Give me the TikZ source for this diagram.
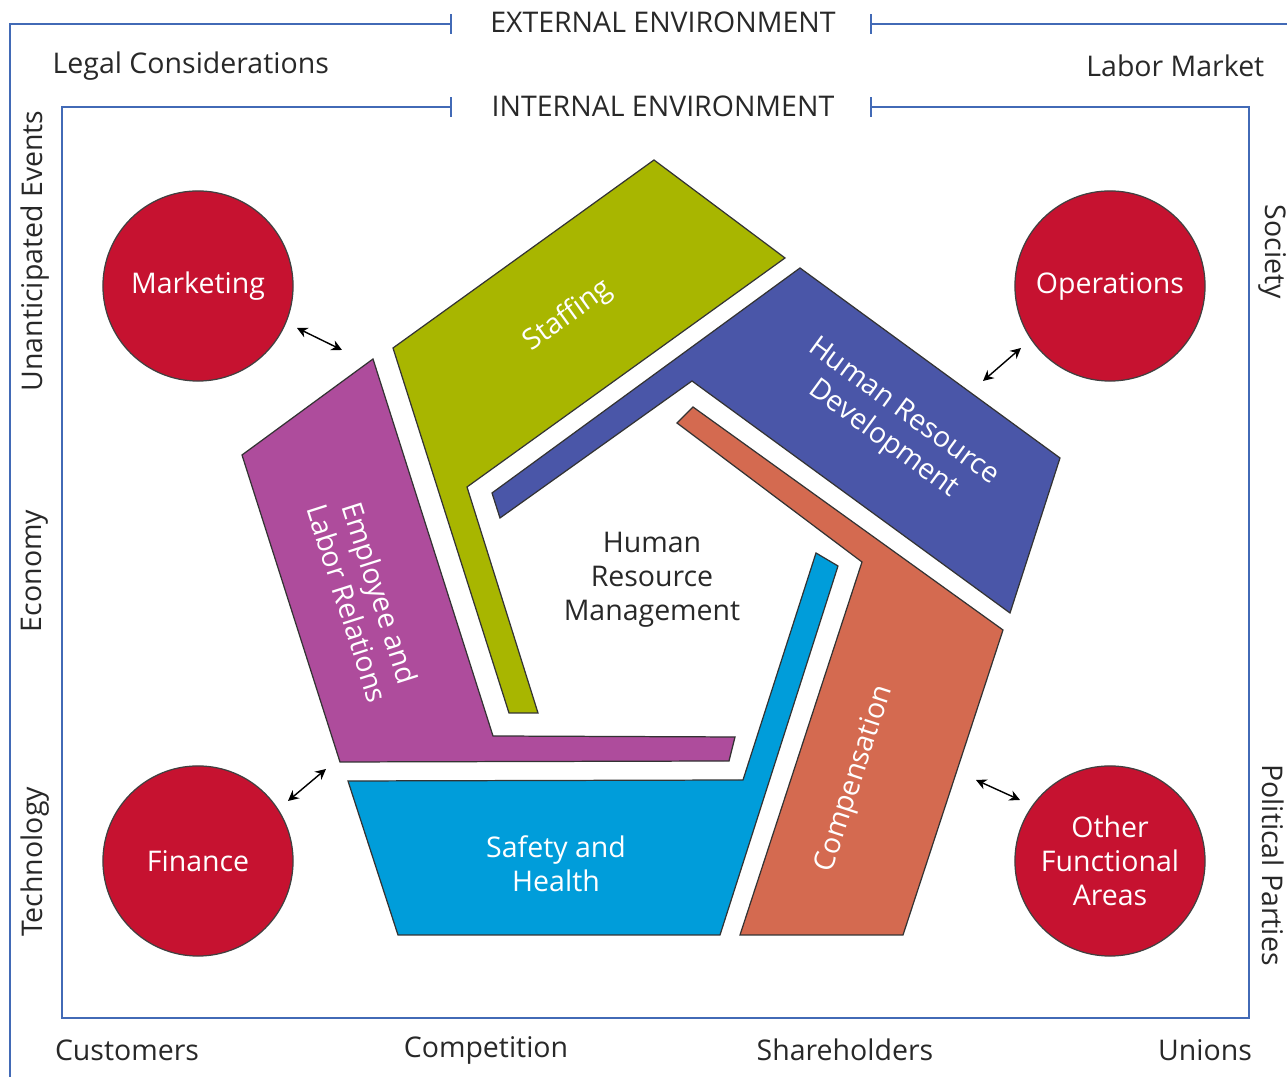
\documentclass[tikz,border=0pt]{standalone}
\usepackage{fontspec}
\setmainfont{Open Sans}
\usetikzlibrary{arrows.meta}
\definecolor{framecol}{RGB}{66,106,182}
\definecolor{deptred}{RGB}{198,18,48}
\definecolor{stfcol}{RGB}{168,182,0}
\definecolor{hrdcol}{RGB}{74,86,168}
\definecolor{elrcol}{RGB}{174,76,156}
\definecolor{sahcol}{RGB}{0,157,218}
\definecolor{cmpcol}{RGB}{212,106,80}
\definecolor{inkcol}{RGB}{40,40,40}
\tikzset{
  txt/.style = {text = inkcol, font = \fontsize{8.1}{9.7}\selectfont, inner sep = 0pt},
  wtxt/.style = {text = white, font = \fontsize{8.1}{9.7}\selectfont, align = center, inner sep = 0pt},
  area/.style = {draw = black!80, line width = .35pt},
  frameline/.style = {draw = framecol, line width = .6pt},
  dept/.style = {circle, fill = deptred, draw = black!75, line width = .35pt,
                 minimum size = 1.9cm, inner sep = 0pt, wtxt},
  link/.style = {{Stealth[length = 3pt, width = 3pt]}-{Stealth[length = 3pt, width = 3pt]}, line width = .4pt}
}
\begin{document}
\begin{tikzpicture}[x = .01cm, y = -.01cm]
      \useasboundingbox (0,0) rectangle (1287,1077);
      % environment frames
      \draw [frameline, {Bar[width = 5.5pt]}-] (452,24) -- (10,24) -- (10,1077);
      \draw [frameline, {Bar[width = 5.5pt]}-] (870,24) -- (1287,24);
      \draw [frameline, {Bar[width = 5.5pt]}-{Bar[width = 5.5pt]}] (452,107) -- (62,107) -- (62,1018)
        -- (1249,1018) -- (1249,107) -- (870,107);
      \node [txt] (ext) at (663,22) {EXTERNAL ENVIRONMENT};
      \node [txt] (int) at (663,106) {INTERNAL ENVIRONMENT};
      \node [txt, anchor = west] (legal) at (52,66) {Legal Considerations};
      \node [txt, anchor = east] (labor) at (1265,66) {Labor Market};
      \node [txt, rotate = 90] (events) at (35,251) {Unanticipated Events};
      \node [txt, rotate = 90] (economy) at (35,571) {Economy};
      \node [txt, rotate = 90] (technology) at (35,862) {Technology};
      \node [txt, rotate = -90] (society) at (1273,252) {Society};
      \node [txt, rotate = -90] (political) at (1273,865) {Political Parties};
      \node [txt] (customers) at (127,1050) {Customers};
      \node [txt] (competition) at (486,1050) {Competition};
      \node [txt] (shareholders) at (845,1050) {Shareholders};
      \node [txt] (unions) at (1205,1050) {Unions};
      % the five HR areas
      \draw [area, fill = stfcol] (393,348) -- (654,160) -- (785,258) -- (467,487)
        -- (538,713) -- (509,713) -- cycle;
      \draw [area, fill = hrdcol] (800,268) -- (1060,458) -- (1010,613) -- (692,381)
        -- (500,518) -- (492,493) -- cycle;
      \draw [area, fill = cmpcol] (693,407) -- (1003,630) -- (903,935) -- (740,935)
        -- (862,562) -- (677,423) -- cycle;
      \draw [area, fill = sahcol] (348,781) -- (743,780) -- (816,553) -- (838,566)
        -- (720,935) -- (398,935) -- cycle;
      \draw [area, fill = elrcol] (373,359) -- (242,455) -- (340,762) -- (729,761)
        -- (735,737) -- (493,736) -- cycle;
      \node [wtxt, rotate = 35.8] (stf) at (568,316) {Staffing};
      \node [wtxt, rotate = -36.2] (hrd) at (893,426) {Human Resource\\Development};
      \node [wtxt, rotate = -72.3] (elr) at (364,598) {Employee and\\Labor Relations};
      \node [wtxt] (sah) at (556,864) {Safety and\\Health};
      \node [wtxt, rotate = 71.9] (cmp) at (855,779) {Compensation};
      \node [txt, align = center] (hrm) at (652,580) {Human\\Resource\\Management};
      % other functional areas
      \node [dept] (mkt) at (198,286) {Marketing};
      \node [dept] (ops) at (1110,286) {Operations};
      \node [dept] (fin) at (198,861) {Finance};
      \node [dept] (ofa) at (1110,861) {Other\\Functional\\Areas};
      \coordinate (mkt-a) at (297,328);
      \coordinate (mkt-b) at (342,350);
      \coordinate (ops-a) at (1021,348);
      \coordinate (ops-b) at (983,381);
      \coordinate (fin-a) at (288,801);
      \coordinate (fin-b) at (326,769);
      \coordinate (ofa-a) at (1020,800);
      \coordinate (ofa-b) at (976,780);
      \draw [link] (mkt-a) -- (mkt-b);
      \draw [link] (ops-a) -- (ops-b);
      \draw [link] (fin-a) -- (fin-b);
      \draw [link] (ofa-a) -- (ofa-b);
    \end{tikzpicture}
\end{document}
